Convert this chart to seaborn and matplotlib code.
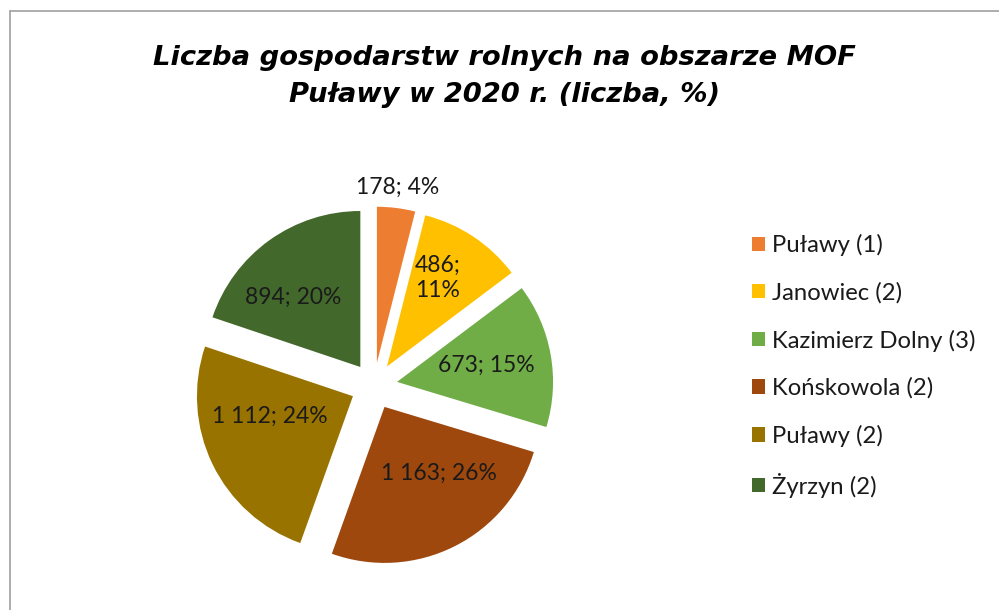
import numpy as np
import matplotlib
matplotlib.use('Agg')
import matplotlib.pyplot as plt
from matplotlib.lines import Line2D
import seaborn as sns

# data
gminy = ['Puławy (1)', 'Janowiec (2)', 'Kazimierz Dolny (3)',
         'Końskowola (2)', 'Puławy (2)', 'Żyrzyn (2)']
liczba = [178, 486, 673, 1163, 1112, 894]
procent = [4, 11, 15, 26, 24, 20]
etykiety = ['178; 4%', '486;\n11%', '673; 15%', '1 163; 26%', '1 112; 24%', '894; 20%']
kolory = ['#ED7D31', '#FFC000', '#70AD47', '#9E480E', '#997300', '#43682B']

sns.set_theme(style='white')
plt.rcParams['font.family'] = ['Lato', 'DejaVu Sans']

W, H = 999, 610
fig = plt.figure(figsize=(W / 100, H / 100), dpi=100)

# pie axes: square, centred on the pie
cx, cy, half = 374, 386, 200
ax = fig.add_axes([(cx - half) / W, (H - cy - half) / H, 2 * half / W, 2 * half / H])
lim = half / 156

explode = [0.15] * len(liczba)
wedges, _ = ax.pie(liczba, colors=kolory, startangle=90, counterclock=False,
                   explode=explode, radius=1, frame=True,
                   wedgeprops=dict(linewidth=0))
ax.set_xlim(-lim, lim)
ax.set_ylim(-lim, lim)
ax.set_aspect('equal')
ax.axis('off')

# label placement: distance from exploded centre (fraction of radius)
# and clockwise nudge from the wedge bisector (degrees)
odl = [1.135, 0.655, 0.58, 0.55, 0.55, 0.62]
przes = [-0.3, -3.7, -0.7, -12.8, 12.0, -8.5]
for w, txt, d, p in zip(wedges, etykiety, odl, przes):
    mid = np.deg2rad((w.theta1 + w.theta2) / 2 - p)
    x0, y0 = w.center
    ax.text(x0 + d * np.cos(mid), y0 + d * np.sin(mid), txt,
            ha='center', va='center', fontsize=16.5, color='#1a1a1a',
            linespacing=1.25)

fig.text(0.505, 1 - 76.5 / H,
         'Liczba gospodarstw rolnych na obszarze MOF\nPuławy w 2020 r. (liczba, %)',
         ha='center', va='center', fontsize=19.7, fontweight='bold',
         fontstyle='italic', family=['DejaVu Sans'], linespacing=1.56,
         color='#000000')

fig.legend(wedges, gminy, loc='center left',
           bbox_to_anchor=(752 / W, 1 - 366 / H), frameon=False,
           borderpad=0, borderaxespad=0,
           fontsize=17.2, handlelength=0.55, handleheight=0.55,
           handletextpad=0.3, labelspacing=1.08, labelcolor='#1a1a1a')

# chart frame (top and left borders visible)
fig.add_artist(Line2D([9.5 / W, 9.5 / W], [0, 1 - 11 / H], transform=fig.transFigure,
                      color='#a0a0a0', lw=1.2))
fig.add_artist(Line2D([9.5 / W, 1], [1 - 11 / H, 1 - 11 / H], transform=fig.transFigure,
                      color='#a0a0a0', lw=1.2))

fig.savefig('out.png', dpi=100, facecolor='white')
